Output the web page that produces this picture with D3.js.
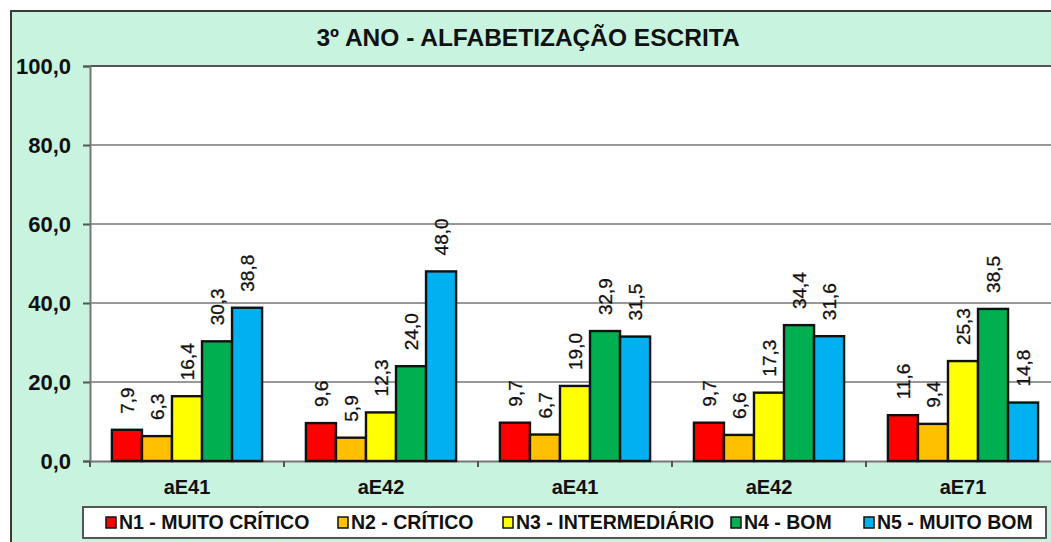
<!DOCTYPE html>
<html>
<head>
<meta charset="utf-8">
<script src="https://cdn.jsdelivr.net/npm/d3@7"></script>
<style>
  body { margin: 0; background: #fff; }
  svg { display: block; font-family: Arial, "Liberation Sans", sans-serif; }
</style>
</head>
<body>
<div id="chart"></div>
<script>
// Chart data
const title = '3º ANO - ALFABETIZAÇÃO ESCRITA'
const categories = ['aE41', 'aE42', 'aE41', 'aE42', 'aE71']
const levels = ['N1 - MUITO CRÍTICO', 'N2 - CRÍTICO', 'N3 - INTERMEDIÁRIO', 'N4 - BOM', 'N5 - MUITO BOM']
const colors = ['#FF0000', '#FFC000', '#FFFF00', '#00B050', '#00B0F0']
const n1 = [7.9, 9.6, 9.7, 9.7, 11.6]
const n2 = [6.3, 5.9, 6.7, 6.6, 9.4]
const n3 = [16.4, 12.3, 19.0, 17.3, 25.3]
const n4 = [30.3, 24.0, 32.9, 34.4, 38.5]
const n5 = [38.8, 48.0, 31.5, 31.6, 14.8]
const yTicks = [0, 20, 40, 60, 80, 100]

const series = [n1, n2, n3, n4, n5]

const width = 1051
const height = 542
const plot = { left: 90, top: 66, right: 1060, bottom: 461 }

const svg = d3.select('#chart')
  .append('svg')
  .attr('width', width)
  .attr('height', height)

// Outer frame
svg.append('rect')
  .attr('x', 11).attr('y', 11)
  .attr('width', 1080).attr('height', 560)
  .attr('fill', '#C7F3DF')
  .attr('stroke', '#3a3a3a')
  .attr('stroke-width', 2)

// Title
svg.append('text')
  .text(title)
  .attr('x', 528).attr('y', 46)
  .attr('text-anchor', 'middle')
  .style('font-size', '24.5px')
  .style('font-weight', 'bold')
  .attr('fill', '#111')

// Scales
const x0 = d3.scaleBand()
  .domain(d3.range(categories.length))
  .range([plot.left, plot.right])
  .paddingInner(0)

const x1 = d3.scaleBand()
  .domain(d3.range(levels.length))
  .range([0, x0.bandwidth()])
  .paddingOuter(0.73)
  .paddingInner(0)

const y = d3.scaleLinear()
  .domain([0, 100])
  .range([plot.bottom, plot.top])

// Plot area
svg.append('rect')
  .attr('x', plot.left).attr('y', plot.top)
  .attr('width', plot.right - plot.left).attr('height', plot.bottom - plot.top)
  .attr('fill', '#fff')

// Gridlines
svg.append('g').selectAll('line')
  .data(yTicks.filter(d => d > 0))
  .enter().append('line')
  .attr('x1', plot.left).attr('x2', plot.right)
  .attr('y1', d => y(d)).attr('y2', d => y(d))
  .attr('stroke', d => d === 100 ? '#555' : '#333')
  .attr('stroke-width', d => d === 100 ? 2 : 1.2)

// Y axis
const yAxis = svg.append('g')
  .attr('transform', `translate(${plot.left},0)`)
  .call(d3.axisLeft(y)
    .tickValues(yTicks)
    .tickSize(7)
    .tickPadding(12)
    .tickFormat(d => d3.format('.1f')(d).replace('.', ',')))
yAxis.select('.domain').attr('stroke', '#777').attr('stroke-width', 2)
yAxis.selectAll('.tick line').attr('stroke', '#555').attr('stroke-width', 2)
yAxis.selectAll('.tick text')
  .style('font-size', '22px')
  .style('font-weight', 'bold')
  .style('font-family', 'Arial, "Liberation Sans", sans-serif')
  .attr('fill', '#111')
  .attr('dy', '0.35em')

// X axis
const xAxis = svg.append('g')
  .attr('transform', `translate(0,${plot.bottom})`)
  .call(d3.axisBottom(x0).tickSize(0).tickFormat(i => categories[i]).tickPadding(19))
xAxis.select('.domain').attr('stroke', '#777').attr('stroke-width', 2)
xAxis.selectAll('.tick text')
  .style('font-size', '20px')
  .style('font-weight', 'bold')
  .style('font-family', 'Arial, "Liberation Sans", sans-serif')
  .attr('fill', '#111')

// Category separators
svg.append('g').selectAll('line')
  .data(d3.range(categories.length + 1))
  .enter().append('line')
  .attr('x1', i => plot.left + i * x0.bandwidth())
  .attr('x2', i => plot.left + i * x0.bandwidth())
  .attr('y1', plot.bottom).attr('y2', plot.bottom + 6)
  .attr('stroke', '#555').attr('stroke-width', 2)

// Bars
const groups = svg.append('g').selectAll('g')
  .data(categories.map((c, i) => series.map((s, j) => ({ i, j, v: s[i] }))))
  .enter().append('g')
  .attr('transform', (d, i) => `translate(${x0(i)},0)`)

groups.selectAll('rect')
  .data(d => d)
  .enter().append('rect')
  .attr('x', d => x1(d.j))
  .attr('y', d => y(d.v))
  .attr('width', x1.bandwidth())
  .attr('height', d => y(0) - y(d.v))
  .attr('fill', d => colors[d.j])
  .attr('stroke', '#111')
  .attr('stroke-width', 2.4)

// Data labels (rotated)
groups.selectAll('text')
  .data(d => d)
  .enter().append('text')
  .text(d => d3.format('.1f')(d.v).replace('.', ','))
  .attr('transform', d => `translate(${x1(d.j) + x1.bandwidth() / 2 + 7},${y(d.v) - 16}) rotate(-90)`)
  .style('font-size', '19px')
  .attr('fill', '#111')
  .attr('stroke', '#111')
  .attr('stroke-width', 0.3)

// Legend
const legend = svg.append('g')
legend.append('rect')
  .attr('x', 83).attr('y', 507)
  .attr('width', 963).attr('height', 31)
  .attr('fill', '#fff')
  .attr('stroke', '#555')
  .attr('stroke-width', 2)

const legendX = [103, 335, 500, 728, 861]
const items = legend.selectAll('g.item')
  .data(levels)
  .enter().append('g')
  .attr('class', 'item')
  .attr('transform', (d, i) => `translate(${legendX[i]},522)`)

items.append('rect')
  .attr('x', 3).attr('y', -5)
  .attr('width', 10).attr('height', 11)
  .attr('fill', (d, i) => colors[i])
  .attr('stroke', '#111')
  .attr('stroke-width', 1.5)

items.append('text')
  .text(d => d)
  .attr('x', 16).attr('y', 7)
  .style('font-size', '19.5px')
  .style('font-weight', 'bold')
  .attr('fill', '#111')
</script>
</body>
</html>
